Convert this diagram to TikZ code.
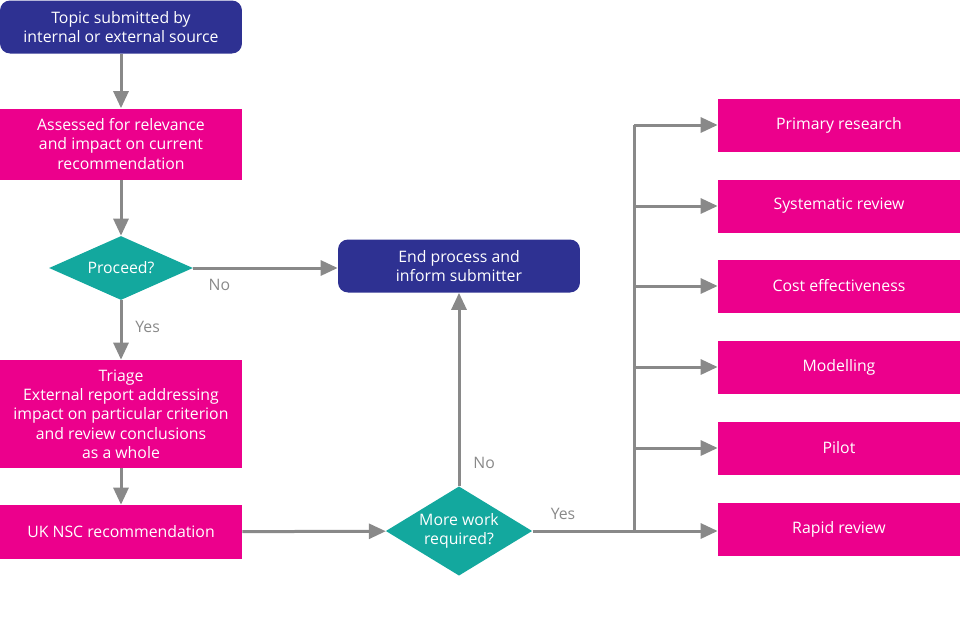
\documentclass[tikz,border=0pt]{standalone}
\usepackage{fontspec}
\setmainfont{Open Sans}
\usetikzlibrary{shapes.geometric,arrows.meta}
\definecolor{navy}{HTML}{2E3192}
\definecolor{pinkbox}{HTML}{EC008C}
\definecolor{tealbox}{HTML}{13A89E}
\definecolor{arrowgray}{HTML}{898989}
\tikzset{
  box/.style={draw=none, fill=pinkbox, text=white, minimum width=4.84cm, align=center, font=\fontsize{9}{11}\selectfont},
  endbox/.style={box, fill=navy, rounded corners=0.2cm, minimum height=1.06cm},
  choice/.style={diamond, fill=tealbox, text=white, aspect=1.64, inner sep=1pt, align=center, font=\fontsize{9}{11}\selectfont},
  flow/.style={-{Triangle[length=0.34cm,width=0.3cm]}, line width=0.06cm, draw=arrowgray},
  lbl/.style={text=arrowgray, font=\fontsize{9}{11}\selectfont}
}
\begin{document}
\begin{tikzpicture}[x=0.02cm,y=-0.02cm]
  \useasboundingbox (0,0) rectangle (960,640);
  % left column
  \node[endbox] (topic) at (121,27) {Topic submitted by\\internal or external source};
  \node[box, minimum height=1.42cm] (assess) at (121,144) {Assessed for relevance\\and impact on current\\recommendation};
  \node[choice, minimum width=2.88cm, minimum height=1.28cm] (proceed) at (121,268) {Proceed?};
  \node[box, minimum height=2.16cm] (triage) at (121,414) {Triage\\External report addressing\\impact on particular criterion\\and review conclusions\\as a whole};
  \node[box, minimum height=1.08cm] (nsc) at (121,532) {UK NSC recommendation};
  % middle
  \node[endbox] (endp) at (459,266) {End process and\\inform submitter};
  \node[choice, minimum width=2.88cm, minimum height=1.76cm] (more) at (459,531) {More work\\required?};
  % right column
  \foreach \name/\y/\txt in {prim/125/Primary research, sys/206/Systematic review, cost/286/Cost effectiveness, model/367/Modelling, pilot/448/Pilot, rapid/529/Rapid review}
    \node[box, minimum height=1.06cm] (\name) at (839,\y) {\txt};
  \coordinate (split) at (634,531);
  \coordinate (top) at (634,125);
  % connectors
  \draw[flow] (topic) -- (assess);
  \draw[flow] (assess) -- (proceed);
  \draw[flow] (proceed) -- node[lbl, pos=0.45, right=4pt] {Yes} (triage);
  \draw[flow] (proceed.east) -- node[lbl, pos=0.18, below=2pt] {No} (endp.west |- proceed.east);
  \draw[flow] (triage) -- (nsc);
  \draw[flow] (nsc) -- (more);
  \draw[flow] (more) -- node[lbl, pos=0.12, right=4pt] {No} (endp);
  \draw[line width=0.06cm, draw=arrowgray] (more.east) -- node[lbl, pos=0.3, above=2pt] {Yes} (split) -- (top);
  \foreach \name in {prim, sys, cost, model, pilot}
    \draw[flow] (split |- \name) -- (\name);
  \draw[flow] (split) -- (rapid.west |- split);
\end{tikzpicture}
\end{document}
